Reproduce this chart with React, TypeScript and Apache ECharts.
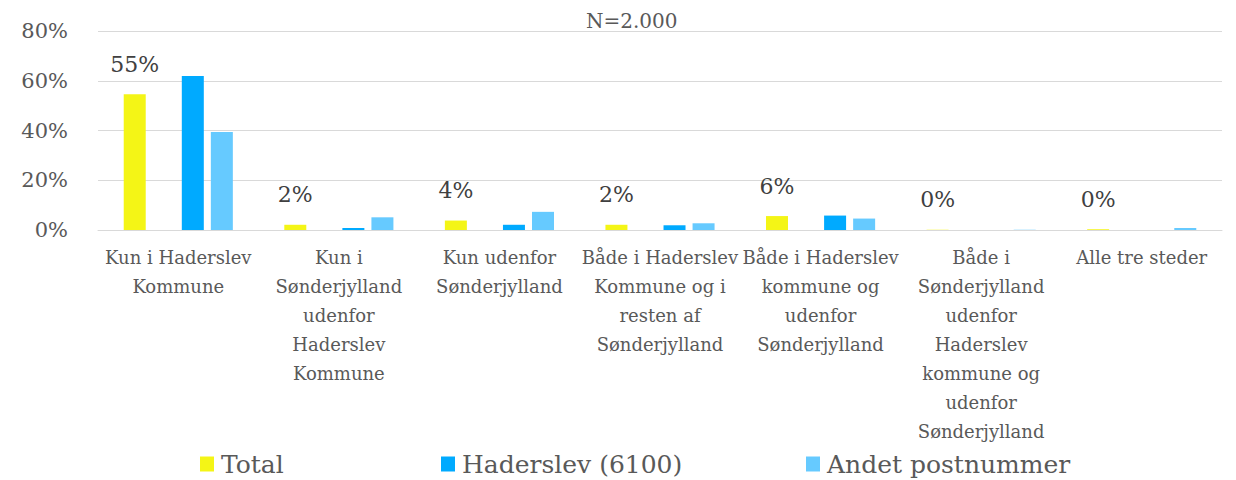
import React, { useEffect, useRef } from "react";
import * as echarts from "echarts";

const categories = [
  "Kun i Haderslev\nKommune",
  "Kun i\nSønderjylland\nudenfor\nHaderslev\nKommune",
  "Kun udenfor\nSønderjylland",
  "Både i Haderslev\nKommune og i\nresten af\nSønderjylland",
  "Både i Haderslev\nkommune og\nudenfor\nSønderjylland",
  "Både i\nSønderjylland\nudenfor\nHaderslev\nkommune og\nudenfor\nSønderjylland",
  "Alle tre steder",
];
const totalValues = [54.6, 2.1, 3.8, 2.1, 5.6, 0.1, 0.3];
const haderslevValues = [61.9, 0.8, 2.1, 1.9, 5.8, 0, 0];
const andetValues = [39.4, 5.1, 7.3, 2.7, 4.6, 0.1, 0.8];
const emptyValues = [null, null, null, null, null, null, null];
const yTicks = { min: 0, max: 80, interval: 20 };
const titleText = "N=2.000";

const FONT = "DejaVu Serif";
const GREY = "#595959";

export default function App() {
  const ref = useRef<HTMLDivElement>(null);
  useEffect(() => {
    document.body.style.margin = "0";
    const chart = echarts.init(ref.current!, null, { renderer: "svg" });
    const legendBase = {
      top: 445,
      icon: "rect",
      itemWidth: 14,
      itemHeight: 15,
      textStyle: { fontFamily: FONT, fontSize: 25, lineHeight: 28, color: GREY, padding: [0, 0, 0, 2] },
      selectedMode: false,
    };
    chart.setOption({
      animation: false,
      title: {
        text: titleText,
        left: 581,
        top: 6,
        textStyle: { fontFamily: FONT, fontSize: 20, fontWeight: "normal", color: GREY },
      },
      legend: [
        { ...legendBase, left: 195, data: ["Total"] },
        { ...legendBase, left: 436, data: ["Haderslev (6100)"] },
        { ...legendBase, left: 801, data: ["Andet postnummer"] },
      ],
      grid: { left: 98, right: 14, top: 31, bottom: 250, containLabel: false },
      xAxis: {
        type: "category",
        data: categories,
        axisTick: { show: false },
        axisLine: { show: true, lineStyle: { color: "#d9d9d9", width: 1 } },
        axisLabel: {
          interval: 0,
          fontFamily: FONT,
          fontSize: 18,
          lineHeight: 29,
          color: GREY,
          margin: 13,
        },
      },
      yAxis: {
        type: "value",
        min: yTicks.min,
        max: yTicks.max,
        interval: yTicks.interval,
        axisLine: { show: false },
        axisTick: { show: false },
        splitLine: { lineStyle: { color: "#d9d9d9", width: 1 } },
        axisLabel: {
          formatter: (v: number) => v + "%",
          fontFamily: FONT,
          fontSize: 21,
          color: GREY,
          margin: 30,
        },
      },
      series: [
        {
          name: "Total",
          type: "bar",
          data: totalValues,
          barWidth: 22,
          barGap: "32%",
          itemStyle: { color: "#F4F516" },
          label: {
            show: true,
            position: "top",
            distance: 19,
            fontFamily: FONT,
            fontSize: 22,
            color: "#404040",
            formatter: (p: any) => Math.round(p.value) + "%",
          },
        },
        {
          name: "_gap",
          type: "bar",
          data: emptyValues,
          barWidth: 22,
          barGap: "32%",
          itemStyle: { color: "transparent" },
        },
        {
          name: "Haderslev (6100)",
          type: "bar",
          data: haderslevValues,
          barWidth: 22,
          barGap: "32%",
          itemStyle: { color: "#00AAFF" },
        },
        {
          name: "Andet postnummer",
          type: "bar",
          data: andetValues,
          barWidth: 22,
          barGap: "32%",
          itemStyle: { color: "#66CAFF" },
        },
      ],
    });
    return () => chart.dispose();
  }, []);
  return <div ref={ref} style={{ width: 1236, height: 480 }} />;
}
